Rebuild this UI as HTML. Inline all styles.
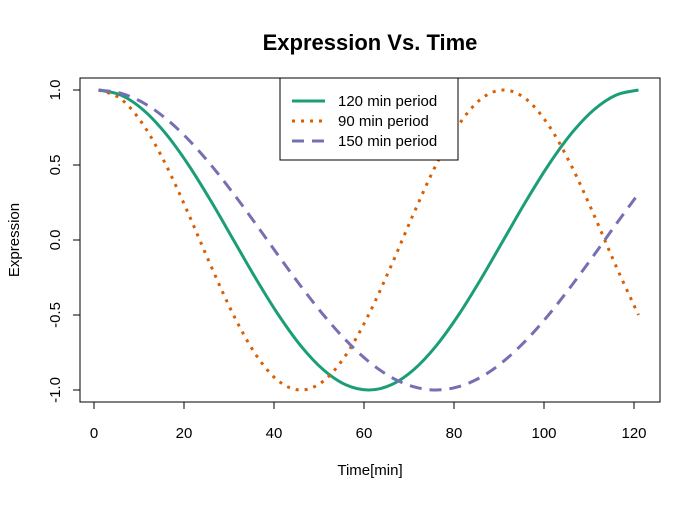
<!DOCTYPE html>
<html><head><meta charset="utf-8"><style>
body{margin:0;background:#fff}
svg text{font-family:"Liberation Sans",Arial,sans-serif;fill:#000}
</style></head><body>
<svg id="chart" width="700" height="500" viewBox="0 0 700 500" xmlns="http://www.w3.org/2000/svg">
<text x="370" y="50" text-anchor="middle" font-size="22" font-weight="bold">Expression Vs. Time</text>
<rect x="80" y="78" width="580" height="324" fill="none" stroke="#000" stroke-width="1"/>
<g id="xaxis"></g>
<g id="yaxis"></g>
<text x="370" y="475" text-anchor="middle" font-size="15">Time[min]</text>
<text transform="translate(19,240) rotate(-90)" text-anchor="middle" font-size="15">Expression</text>
<g id="series"></g>
<g>
<rect x="280" y="78" width="178" height="82" fill="#fff" stroke="#000"/>
<line x1="292" y1="101" x2="325" y2="101" stroke="#1B9E77" stroke-width="3"/>
<text x="338" y="106" font-size="15">120 min period</text>
<line x1="292" y1="121" x2="325" y2="121" stroke="#D95F02" stroke-width="3" stroke-dasharray="3,6"/>
<text x="338" y="126" font-size="15">90 min period</text>
<line x1="292" y1="141" x2="325" y2="141" stroke="#7570B3" stroke-width="3" stroke-dasharray="12,8"/>
<text x="338" y="146" font-size="15">150 min period</text>
</g>
</svg>
<script>
const times=[1,6,11,16,21,26,31,36,41,46,51,56,61,66,71,76,81,86,91,96,101,106,111,116,121];
const s120=[1,.966,.866,.707,.5,.259,0,-.259,-.5,-.707,-.866,-.966,-1,-.966,-.866,-.707,-.5,-.259,0,.259,.5,.707,.866,.966,1];
const s90=[1,.94,.766,.5,.174,-.174,-.5,-.766,-.94,-1,-.94,-.766,-.5,-.174,.174,.5,.766,.94,1,.94,.766,.5,.174,-.174,-.5];
const s150=[1,.978,.914,.809,.669,.5,.309,.105,-.105,-.309,-.5,-.669,-.809,-.914,-.978,-1,-.978,-.914,-.809,-.669,-.5,-.309,-.105,.105,.309];
const xTicks=[0,20,40,60,80,100,120];
const yTicks=[-1,-0.5,0,0.5,1];
const yTickLabels=["-1.0","-0.5","0.0","0.5","1.0"];
const NS="http://www.w3.org/2000/svg";
const X=v=>94+v*4.5, Y=v=>240-v*150;
function mk(tag,attrs,parent){const e=document.createElementNS(NS,tag);for(const k in attrs)e.setAttribute(k,attrs[k]);parent.appendChild(e);return e;}
const xa=document.getElementById('xaxis'), ya=document.getElementById('yaxis');
mk('line',{x1:X(0),x2:X(120),y1:402,y2:402,stroke:'#000'},xa);
xTicks.forEach(t=>{
 const l=mk('line',{x1:X(t),x2:X(t),y1:402,y2:409,stroke:'#000'},xa);
 
 
 const tx=mk('text',{x:X(t),y:438,'text-anchor':'middle','font-size':'15'},xa);
 
 
 tx.textContent=t;
});
mk('line',{x1:80,x2:80,y1:Y(-1),y2:Y(1),stroke:'#000'},ya);
yTicks.forEach((t,i)=>{
 const l=mk('line',{x1:73,x2:80,y1:Y(t),y2:Y(t),stroke:'#000'},ya);
 
 
 const tx=mk('text',{transform:`translate(60,${Y(t)}) rotate(-90)`,'text-anchor':'middle','font-size':'15'},ya);
 
 
 tx.textContent=yTickLabels[i];
});
function pathFor(vals){
 const p=times.map((t,i)=>[X(t),Y(vals[i])]);
 let d=`M${p[0][0]},${p[0][1]}`;
 for(let i=0;i<p.length-1;i++){
  const p0=p[i-1]||p[i],p1=p[i],p2=p[i+1],p3=p[i+2]||p2;
  const c1=[p1[0]+(p2[0]-p0[0])/6,p1[1]+(p2[1]-p0[1])/6];
  const c2=[p2[0]-(p3[0]-p1[0])/6,p2[1]-(p3[1]-p1[1])/6];
  d+=` C${c1[0]},${c1[1]} ${c2[0]},${c2[1]} ${p2[0]},${p2[1]}`;
 }
 return d;
}
const sg=document.getElementById('series');
const a=mk('path',{d:pathFor(s120),fill:'none',stroke:'#1B9E77','stroke-width':3},sg);


const b=mk('path',{d:pathFor(s90),fill:'none',stroke:'#D95F02','stroke-width':3,'stroke-dasharray':'3,6'},sg);


const c=mk('path',{d:pathFor(s150),fill:'none',stroke:'#7570B3','stroke-width':3,'stroke-dasharray':'12,8'},sg);


</script>
</body></html>
